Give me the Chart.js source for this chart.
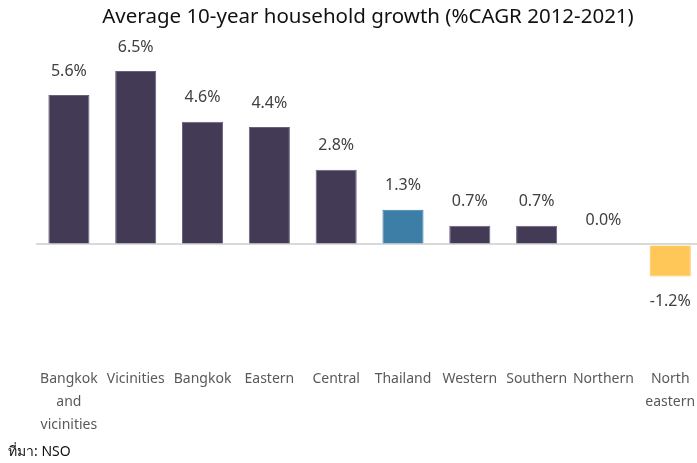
<!DOCTYPE html>
<html><head><meta charset="utf-8">
<script src="https://cdn.jsdelivr.net/npm/chart.js@4"></script>
<style>html,body{margin:0;padding:0;background:#fff;overflow:hidden;width:697px;height:463px}#wrap{position:relative;width:712px;height:463px}</style>
</head><body><div id="wrap"><canvas id="c" width="712" height="463"></canvas></div>
<script>
const categories = [["Bangkok","and","vicinities"],"Vicinities","Bangkok","Eastern","Central","Thailand","Western","Southern","Northern",["North","eastern"]];
const values = [5.6, 6.5, 4.6, 4.4, 2.8, 1.3, 0.7, 0.7, 0.0, -1.2];
const barColors = ["#433a55","#433a55","#433a55","#433a55","#433a55","#3c7ea5","#433a55","#433a55","#d9d9d9","#ffc658"];
const titleText = "Average 10-year household growth (%CAGR 2012-2021)";
const sourceText = "ที่มา: NSO";

const labelPlugin = {
  id: 'labels',
  afterDatasetsDraw(chart) {
    const ctx = chart.ctx;
    const meta = chart.getDatasetMeta(0);
    const y = chart.scales.y;
    ctx.save();
    ctx.font = '16px "Noto Sans", sans-serif';
    ctx.fillStyle = '#404040';
    ctx.textAlign = 'center';
    ctx.textBaseline = 'middle';
    meta.data.forEach((bar, i) => {
      const v = values[i];
      const py = y.getPixelForValue(v);
      const ty = v < 0 ? py + 25 : py - 24;
      ctx.fillText(v.toFixed(1) + '%', bar.x, ty);
    });
    // title
    ctx.font = '20.5px "Noto Sans", sans-serif';
    ctx.fillStyle = '#111';
    ctx.fillText(titleText, 368, 17);
    // source
    ctx.font = '14px "Noto Sans", sans-serif';
    ctx.textAlign = 'left';
    ctx.fillStyle = '#111';
    ctx.fillText(sourceText, 8, 452);
    ctx.restore();
  }
};

new Chart(document.getElementById('c'), {
  type: 'bar',
  data: {
    labels: categories,
    datasets: [{
      data: values,
      backgroundColor: barColors,
      borderColor: barColors.map(c => c === "#433a55" ? "#6a6180" : c),
      borderWidth: 1,
      categoryPercentage: 1,
      barPercentage: 0.615
    }]
  },
  options: {
    responsive: false,
    animation: false,
    devicePixelRatio: 1,
    layout: { padding: { top: 31, bottom: 10, left: 35.5, right: 6.5 } },
    plugins: { legend: { display: false }, tooltip: { enabled: false }, title: { display: false } },
    scales: {
      x: {
        grid: { display: false, drawTicks: false },
        border: { display: false },
        ticks: { color: '#595959', font: { family: '"Noto Sans", sans-serif', size: 14, lineHeight: 1.64 }, padding: 16.5, maxRotation: 0, autoSkip: false }
      },
      y: {
        min: -4, max: 8,
        ticks: { display: false, stepSize: 1 },
        border: { display: false },
        grid: { drawTicks: false, lineWidth: 2, color: c => c.tick && c.tick.value === 0 ? '#d9d9d9' : 'rgba(0,0,0,0)' }
      }
    }
  },
  plugins: [labelPlugin]
});
</script></body></html>
